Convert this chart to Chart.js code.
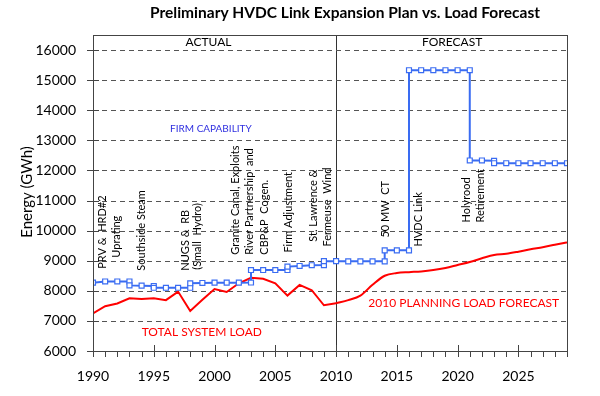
<!DOCTYPE html>
<html>
<head>
<meta charset="utf-8">
<script src="https://cdn.jsdelivr.net/npm/chart.js@4.4.1/dist/chart.umd.min.js"></script>
<style>
  body { margin: 0; background: #fff; }
  #wrap { width: 600px; height: 396px; position: relative; }
</style>
</head>
<body>
<div id="wrap"><canvas id="hvdcChart"></canvas></div>
<script>
//firm capability, step changes are given as two points on the same year
var capYears = [
  1990, 1991, 1992, 1993, 1993, 1994, 1995, 1995, 1996, 1997, 1998, 1998,
  1999, 2000, 2001, 2002, 2003, 2003, 2004, 2005, 2006, 2006, 2007, 2008,
  2009, 2009, 2010, 2011, 2012, 2013, 2014, 2014, 2015, 2016, 2016, 2017,
  2018, 2019, 2020, 2021, 2021, 2022, 2023, 2023, 2024, 2025, 2026, 2027,
  2028, 2029
];
var capValues = [
  8270, 8310, 8310, 8310, 8180, 8170, 8160, 8100, 8100, 8100, 8100, 8250,
  8260, 8270, 8270, 8270, 8275, 8690, 8690, 8690, 8690, 8805, 8825, 8850,
  8855, 8985, 8985, 8980, 8980, 8980, 8980, 9345, 9345, 9345, 15330, 15330,
  15330, 15330, 15330, 15330, 12330, 12330, 12320, 12240, 12240, 12240, 12240, 12240,
  12240, 12240
];

//total system load (actual)
var actualYears = [
  1990, 1991, 1992, 1993, 1994, 1995, 1996, 1997, 1998, 1999, 2000,
  2001, 2002, 2003, 2004, 2005, 2006, 2007, 2008, 2009, 2010
];
var actualLoad = [
  7250, 7490, 7580, 7750, 7730, 7750, 7690, 7975, 7330, 7700, 8060,
  7960, 8250, 8430, 8400, 8250, 7840, 8195, 8020, 7520, 7585
];

//2010 planning load forecast
var forecastYears = [
  2010, 2011, 2012, 2013, 2014, 2015, 2016, 2017, 2018, 2019,
  2020, 2021, 2022, 2023, 2024, 2025, 2026, 2027, 2028, 2029
];
var forecastLoad = [
  7585, 7690, 7840, 8200, 8500, 8590, 8620, 8645, 8690, 8760,
  8860, 8960, 9080, 9190, 9230, 9300, 9380, 9450, 9530, 9610
];

var yTicks = [6000, 7000, 8000, 9000, 10000, 11000, 12000, 13000, 14000, 15000, 16000];
var xLabelYears = [1990, 1995, 2000, 2005, 2010, 2015, 2020, 2025];

//project notes, drawn upward from (year, value)
var notes = [
  ["PRV &  HRD#2", 1990.75, 8730],
  ["Uprating", 1991.95, 9100],
  ["Southside Steam", 1994.0, 8670],
  ["NUGS &  RB", 1997.6, 8670],
  ["(Small  Hydro)", 1998.6, 8700],
  ["Granite Canal, Exploits", 2001.7, 9200],
  ["River Partnership  and", 2002.9, 9200],
  ["CBP&P  Cogen.", 2004.1, 9200],
  ["Firm Adjustment", 2006.1, 9270],
  ["St. Lawrence &", 2008.1, 9630],
  ["Fermeuse  Wind", 2009.3, 9470],
  ["50 MW  CT", 2014.05, 9770],
  ["HVDC Link", 2016.8, 9470],
  ["Holyrood", 2020.7, 10270],
  ["Retirement", 2021.9, 10270]
];

var blue = "#3a6cf2";
var red = "#ff0000";
var font = "Lato, 'Noto Sans', sans-serif";

function pairs(xs, ys) {
  return xs.map(function (x, i) { return {x: x, y: ys[i]}; });
}

var decor = {
  id: "decor",
  beforeDatasetsDraw: function (chart) {
    //dashed horizontal grid lines
    var ctx = chart.ctx;
    var a = chart.chartArea;
    var ys = chart.scales.y;
    ctx.save();
    ctx.strokeStyle = "#555";
    ctx.lineWidth = 1;
    ctx.setLineDash([5, 4]);
    ctx.beginPath();
    yTicks.slice(1).forEach(function (v) {
      var py = Math.round(ys.getPixelForValue(v)) + 0.5;
      ctx.moveTo(a.left, py);
      ctx.lineTo(a.right, py);
    });
    ctx.stroke();
    ctx.restore();
  },
  afterDraw: function (chart) {
    var ctx = chart.ctx;
    var a = chart.chartArea;
    var xs = chart.scales.x;
    var ys = chart.scales.y;
    ctx.save();

    //frame and tick marks
    ctx.strokeStyle = "#444";
    ctx.lineWidth = 1;
    ctx.strokeRect(Math.round(a.left) + 0.5, Math.round(a.top) + 0.5,
      Math.round(a.right - a.left), Math.round(a.bottom - a.top));
    ctx.beginPath();
    for (var yr = 1990; yr <= 2029; yr++) {
      var px = Math.round(xs.getPixelForValue(yr)) + 0.5;
      ctx.moveTo(px, a.bottom + 6);
      ctx.lineTo(px, yr % 5 === 0 ? a.bottom - 6 : a.bottom);
    }
    yTicks.forEach(function (v) {
      var py = Math.round(ys.getPixelForValue(v)) + 0.5;
      ctx.moveTo(a.left - 6, py);
      ctx.lineTo(a.left + 6, py);
    });
    ctx.stroke();

    //title
    ctx.fillStyle = "#000";
    ctx.textAlign = "center";
    ctx.textBaseline = "middle";
    ctx.font = "bold 15.5px " + font;
    ctx.fillText("Preliminary HVDC Link Expansion Plan vs. Load Forecast", 345, 13);

    //y axis title
    ctx.save();
    ctx.translate(27, 192);
    ctx.rotate(-Math.PI / 2);
    ctx.font = "15px " + font;
    ctx.fillText("Energy (GWh)", 0, 0);
    ctx.restore();

    function put(text, year, value, size, color) {
      ctx.font = size + "px " + font;
      ctx.fillStyle = color;
      ctx.fillText(text, xs.getPixelForValue(year), ys.getPixelForValue(value));
    }
    put("ACTUAL", 1999.5, 16270, 12, "#000");
    put("FORECAST", 2019.55, 16270, 12, "#000");
    put("FIRM CAPABILITY", 1999.7, 13370, 10, "#3030e0");
    put("TOTAL SYSTEM LOAD", 1998.95, 6630, 12, red);
    put("2010 PLANNING LOAD FORECAST", 2020.5, 7600, 12, red);

    //rotated project notes
    ctx.fillStyle = "#000";
    ctx.font = "11px " + font;
    ctx.textAlign = "left";
    notes.forEach(function (n) {
      ctx.save();
      ctx.translate(xs.getPixelForValue(n[1]), ys.getPixelForValue(n[2]));
      ctx.rotate(-Math.PI / 2);
      ctx.fillText(n[0], 0, 0);
      ctx.restore();
    });
    ctx.restore();
  }
};

new Chart("hvdcChart", {
  type: "line",
  data: {
    datasets: [{
      label: "Firm Capability",
      data: pairs(capYears, capValues),
      borderColor: blue,
      borderWidth: 2,
      pointStyle: "rect",
      pointRadius: 3.5,
      pointBackgroundColor: "#fff",
      pointBorderColor: blue,
      pointBorderWidth: 1.2
    }, {
      label: "Total System Load",
      data: pairs(actualYears, actualLoad),
      borderColor: red,
      borderWidth: 2,
      pointRadius: 0
    }, {
      label: "2010 Planning Load Forecast",
      data: pairs(forecastYears, forecastLoad),
      borderColor: red,
      borderWidth: 2,
      pointRadius: 0,
      cubicInterpolationMode: "monotone"
    }]
  },
  options: {
    responsive: true,
    maintainAspectRatio: false,
    animation: false,
    layout: { padding: { left: 0, right: 33, top: 35, bottom: 0 } },
    plugins: {
      legend: { display: false },
      tooltip: { enabled: false }
    },
    scales: {
      x: {
        type: "linear",
        min: 1990,
        max: 2029,
        afterFit: function (s) { s.height = 45; },
        ticks: {
          stepSize: 1,
          autoSkip: false,
          maxRotation: 0,
          padding: 17,
          color: "#000",
          font: { family: font, size: 14 },
          callback: function (v) { return xLabelYears.indexOf(v) >= 0 ? String(v) : ""; }
        },
        grid: {
          drawTicks: false,
          color: function (c) { return c.tick && c.tick.value === 2010 ? "#333" : "transparent"; }
        },
        border: { color: "#444" }
      },
      y: {
        min: 6000,
        max: 16500,
        afterFit: function (s) { s.width = 93; },
        afterBuildTicks: function (s) {
          s.ticks = yTicks.map(function (v) { return {value: v}; });
        },
        ticks: {
          padding: 9,
          color: "#000",
          font: { family: font, size: 14 },
          callback: function (v) { return String(v); }
        },
        grid: { display: false },
        border: { color: "#444" }
      }
    }
  },
  plugins: [decor]
});
</script>
</body>
</html>
